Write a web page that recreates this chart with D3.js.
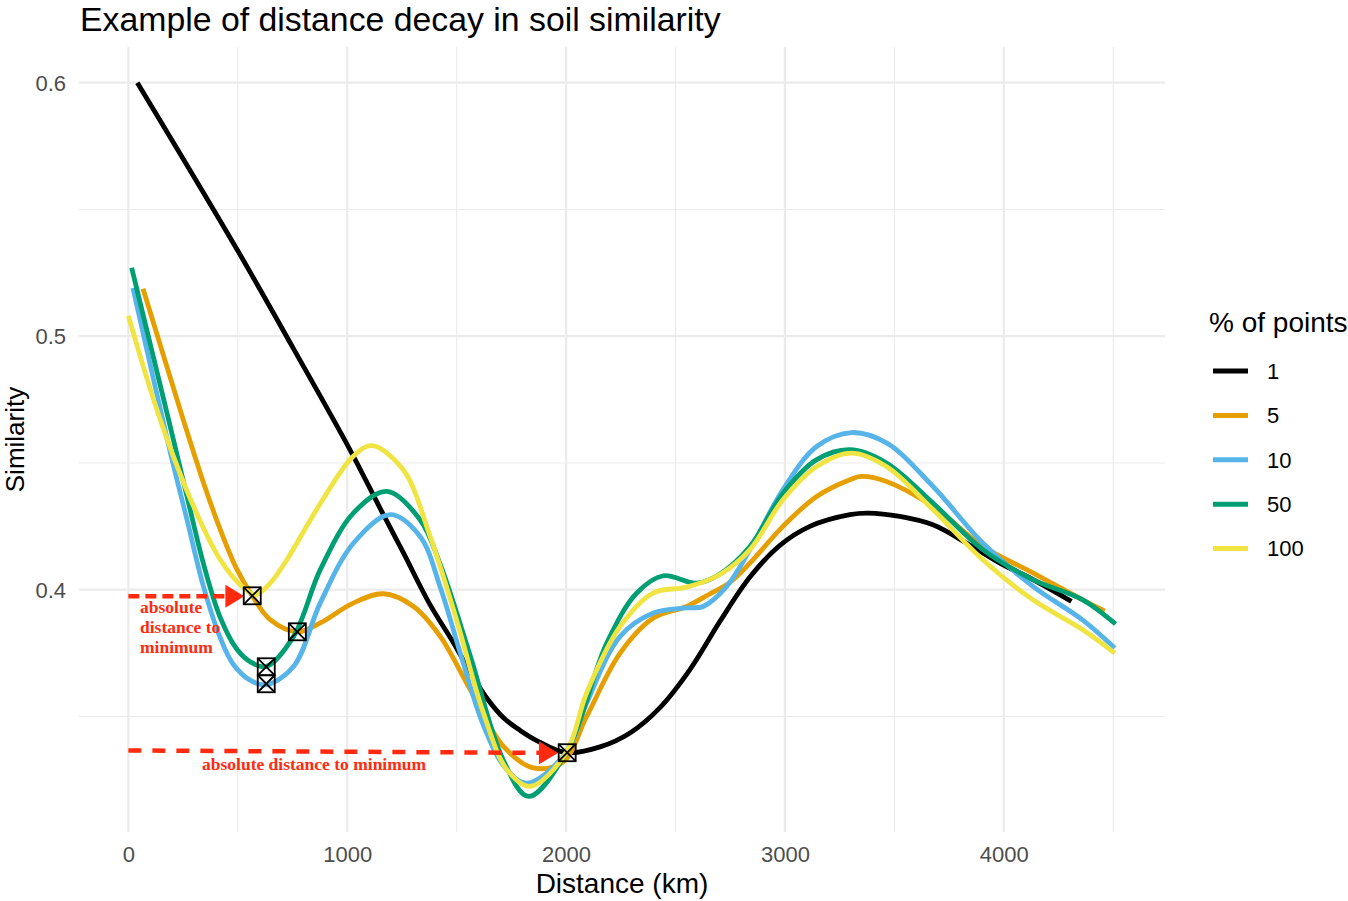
<!DOCTYPE html>
<html>
<head>
<meta charset="utf-8">
<script src="https://cdn.jsdelivr.net/npm/d3@7"></script>
<style>
  html, body { margin: 0; padding: 0; background: #fff; }
  svg { display: block; }
</style>
</head>
<body>
<svg id="chart" width="1348" height="901"></svg>
<script>
// ---------- data ----------
const seriesNames = ["1", "5", "10", "50", "100"];
const seriesColors = ["#000000", "#E69F00", "#56B4E9", "#009E73", "#F0E442"];

const pts1 = [[41,0.600],[498,0.534],[755,0.495],[1014,0.455],[1151,0.432],[1257,0.4145],[1379,0.394],[1486,0.379],[1562,0.3675],[1640,0.357],[1714,0.3495],[1790,0.3445],[1866,0.3405],[2000,0.3357],[2155,0.3380],[2292,0.3435],[2429,0.3535],[2566,0.3685],[2703,0.3875],[2840,0.4050],[2977,0.4175],[3114,0.4250],[3297,0.4296],[3380,0.4302],[3525,0.4289],[3676,0.4256],[3830,0.4184],[3982,0.4105],[4133,0.4040],[4309,0.3954]];
const pts5 = [[67,0.5187],[160,0.4925],[251,0.467],[344,0.4420],[420,0.4237],[496,0.4080],[566,0.3976],[648,0.3882],[772,0.3834],[877,0.3869],[1029,0.3948],[1166,0.3984],[1303,0.3934],[1425,0.3816],[1562,0.3606],[1714,0.3382],[1851,0.3297],[1986,0.332],[2094,0.350],[2247,0.375],[2399,0.3888],[2551,0.3934],[2650,0.398],[2750,0.403],[2840,0.4105],[2991,0.425],[3145,0.4368],[3297,0.4434],[3350,0.4447],[3464,0.4427],[3676,0.4329],[3904,0.4171],[4133,0.4066],[4361,0.3960],[4461,0.3915]];
const pts10 = [[21,0.519],[192,0.454],[268,0.4276],[344,0.401],[420,0.381],[480,0.3705],[560,0.3641],[630,0.3625],[755,0.3697],[877,0.3948],[1029,0.4184],[1196,0.4296],[1333,0.4210],[1425,0.401],[1520,0.374],[1620,0.347],[1720,0.330],[1820,0.3237],[2000,0.3357],[2094,0.3553],[2247,0.3816],[2399,0.3908],[2551,0.3928],[2627,0.3934],[2734,0.4013],[2840,0.4158],[2991,0.4395],[3145,0.4565],[3304,0.4620],[3464,0.4579],[3676,0.4408],[3904,0.4184],[4133,0.4013],[4361,0.3880],[4507,0.3770]];
const pts50 = [[15,0.527],[184,0.467],[268,0.4368],[344,0.410],[420,0.389],[496,0.3765],[560,0.3714],[629,0.3697],[755,0.3816],[877,0.4079],[1029,0.4303],[1181,0.4388],[1333,0.4276],[1425,0.4100],[1562,0.374],[1712,0.333],[1828,0.3185],[2000,0.3357],[2186,0.379],[2323,0.3987],[2444,0.4055],[2597,0.4026],[2700,0.4060],[2840,0.417],[2991,0.438],[3145,0.4513],[3297,0.4552],[3464,0.4500],[3676,0.4342],[3904,0.4158],[4133,0.4040],[4361,0.3960],[4511,0.3865]];
const pts100 = [[0,0.508],[146,0.467],[300,0.4325],[420,0.4118],[519,0.4013],[580,0.3980],[648,0.4026],[724,0.4118],[877,0.434],[1027,0.4526],[1113,0.4568],[1256,0.4473],[1379,0.4210],[1500,0.388],[1620,0.352],[1730,0.329],[1836,0.3224],[2000,0.3357],[2094,0.3593],[2247,0.3855],[2397,0.3987],[2551,0.4010],[2703,0.4060],[2840,0.4158],[2991,0.4355],[3145,0.4486],[3304,0.4539],[3464,0.4486],[3676,0.4316],[3904,0.4118],[4133,0.3960],[4361,0.3842],[4507,0.3750]];
const seriesPoints = [pts1, pts5, pts10, pts50, pts100];

const minimumMarkers = [[566,0.3976],[772,0.3834],[630,0.3696],[630,0.3629],[2005,0.3357]];

const arrowTop = [[0,0.3974],[530,0.3974]];
const arrowBottom = [[0,0.3366],[1963,0.3356]];
const annotTopLines = ["absolute", "distance to", "minimum"];
const annotBottom = "absolute distance to minimum";

const xTicks = [0, 1000, 2000, 3000, 4000];
const xMinor = [500, 1500, 2500, 3500, 4500];
const yTicks = [0.4, 0.5, 0.6];
const yMinor = [0.35, 0.45, 0.55];

// ---------- layout ----------
const svg = d3.select("#chart");
const panel = { left: 79, right: 1165, top: 47, bottom: 832 };

const allPts = seriesPoints.flat();
const xExt = d3.extent(allPts, d => d[0]);
const yExt = d3.extent(allPts, d => d[1]);
const xPad = (xExt[1] - xExt[0]) * 0.05;
const yPad = (yExt[1] - yExt[0]) * 0.05;

const x = d3.scaleLinear().domain([xExt[0] - xPad, xExt[1] + xPad]).range([panel.left, panel.right]);
const y = d3.scaleLinear().domain([yExt[0] - yPad, yExt[1] + yPad]).range([panel.bottom, panel.top]);

const sans = "'Liberation Sans', Arial, Helvetica, sans-serif";
const serif = "'Liberation Serif', 'Times New Roman', serif";

// grid
const grid = svg.append("g");
grid.selectAll(".ymin").data(yMinor).enter().append("line")
  .attr("x1", panel.left).attr("x2", panel.right)
  .attr("y1", d => y(d)).attr("y2", d => y(d))
  .attr("stroke", "#EBEBEB").attr("stroke-width", 1.1);
grid.selectAll(".xmin").data(xMinor).enter().append("line")
  .attr("y1", panel.top).attr("y2", panel.bottom)
  .attr("x1", d => x(d)).attr("x2", d => x(d))
  .attr("stroke", "#EBEBEB").attr("stroke-width", 1.1);
grid.selectAll(".ymaj").data(yTicks).enter().append("line")
  .attr("x1", panel.left).attr("x2", panel.right)
  .attr("y1", d => y(d)).attr("y2", d => y(d))
  .attr("stroke", "#EBEBEB").attr("stroke-width", 2.2);
grid.selectAll(".xmaj").data(xTicks).enter().append("line")
  .attr("y1", panel.top).attr("y2", panel.bottom)
  .attr("x1", d => x(d)).attr("x2", d => x(d))
  .attr("stroke", "#EBEBEB").attr("stroke-width", 2.2);

// axes (labels via d3 axis generators, domain/ticks hidden)
const xAxis = d3.axisBottom(x).tickValues(xTicks).tickFormat(d3.format("d")).tickSize(0).tickPadding(0);
const gx = svg.append("g").attr("transform", `translate(0,${panel.bottom})`).call(xAxis);
gx.select(".domain").remove();
gx.selectAll("text").attr("dy", null).attr("y", 30)
  .attr("font-family", sans).attr("font-size", 22).attr("fill", "#4D4D4D");

const yAxis = d3.axisLeft(y).tickValues(yTicks).tickFormat(d3.format(".1f")).tickSize(0).tickPadding(0);
const gy = svg.append("g").attr("transform", `translate(${panel.left - 13},0)`).call(yAxis);
gy.select(".domain").remove();
gy.selectAll("text").attr("dy", "0.35em").attr("x", 0)
  .attr("font-family", sans).attr("font-size", 22).attr("fill", "#4D4D4D");

// axis titles
svg.append("text").attr("x", (panel.left + panel.right) / 2).attr("y", 893)
  .attr("text-anchor", "middle").attr("font-family", sans).attr("font-size", 28).attr("fill", "#000")
  .text("Distance (km)");
svg.append("text").attr("transform", `translate(23.5,${(panel.top + panel.bottom) / 2}) rotate(-90)`)
  .attr("text-anchor", "middle").attr("font-family", sans).attr("font-size", 26).attr("fill", "#000")
  .text("Similarity");

// title
svg.append("text").attr("x", 80).attr("y", 31)
  .attr("font-family", sans).attr("font-size", 33.8).attr("fill", "#000")
  .text("Example of distance decay in soil similarity");

// curves
const line = d3.line().x(d => x(d[0])).y(d => y(d[1])).curve(d3.curveCatmullRom.alpha(0.5));
const gLines = svg.append("g");
seriesPoints.forEach((pts, i) => {
  gLines.append("path").attr("d", line(pts))
    .attr("fill", "none").attr("stroke", seriesColors[i])
    .attr("stroke-width", 4.8).attr("stroke-linecap", "butt").attr("stroke-linejoin", "round");
});

// annotation arrows
const red = "#FF2A10";
function drawArrow(seg, dash, headLen, headHalf) {
  const x0 = x(seg[0][0]), y0 = y(seg[0][1]);
  const x1 = x(seg[1][0]), y1 = y(seg[1][1]);
  const ang = Math.atan2(y1 - y0, x1 - x0);
  const bx = x1 - headLen * Math.cos(ang), by = y1 - headLen * Math.sin(ang);
  svg.append("line").attr("x1", x0).attr("y1", y0).attr("x2", bx).attr("y2", by)
    .attr("stroke", red).attr("stroke-width", 4.5).attr("stroke-dasharray", dash);
  const px = -Math.sin(ang), py = Math.cos(ang);
  svg.append("path")
    .attr("d", `M${x1},${y1}L${bx + px * headHalf},${by + py * headHalf}L${bx - px * headHalf},${by - py * headHalf}Z`)
    .attr("fill", red);
}
drawArrow(arrowTop, "11,6", 19, 11.5);
drawArrow(arrowBottom, "13,11", 19, 11.5);

const tTop = svg.append("text").attr("font-family", serif).attr("font-weight", "bold")
  .attr("font-size", 17.5).attr("fill", red);
annotTopLines.forEach((s, i) => {
  tTop.append("tspan").attr("x", 140).attr("y", 613 + i * 20).text(s);
});
svg.append("text").attr("x", 202).attr("y", 770).attr("font-family", serif).attr("font-weight", "bold")
  .attr("font-size", 17.5).attr("fill", red).text(annotBottom);

// minimum markers: square with cross
const ms = 8.5;
const gm = svg.append("g").attr("fill", "none").attr("stroke", "#000").attr("stroke-width", 1.8);
minimumMarkers.forEach(d => {
  const cx = x(d[0]), cy = y(d[1]);
  gm.append("rect").attr("x", cx - ms).attr("y", cy - ms).attr("width", 2 * ms).attr("height", 2 * ms);
  gm.append("path").attr("d", `M${cx - ms},${cy - ms}L${cx + ms},${cy + ms}M${cx + ms},${cy - ms}L${cx - ms},${cy + ms}`);
});

// legend
const lg = svg.append("g");
lg.append("text").attr("x", 1209).attr("y", 332).attr("font-family", sans).attr("font-size", 28).attr("fill", "#000")
  .text("% of points");
const legY = d3.scalePoint().domain(seriesNames).range([371, 548.5]);
seriesNames.forEach((n, i) => {
  lg.append("line").attr("x1", 1213).attr("x2", 1248).attr("y1", legY(n)).attr("y2", legY(n))
    .attr("stroke", seriesColors[i]).attr("stroke-width", 5);
  lg.append("text").attr("x", 1267).attr("y", legY(n)).attr("dy", "0.36em")
    .attr("font-family", sans).attr("font-size", 22).attr("fill", "#000").text(n);
});
</script>
</body>
</html>
